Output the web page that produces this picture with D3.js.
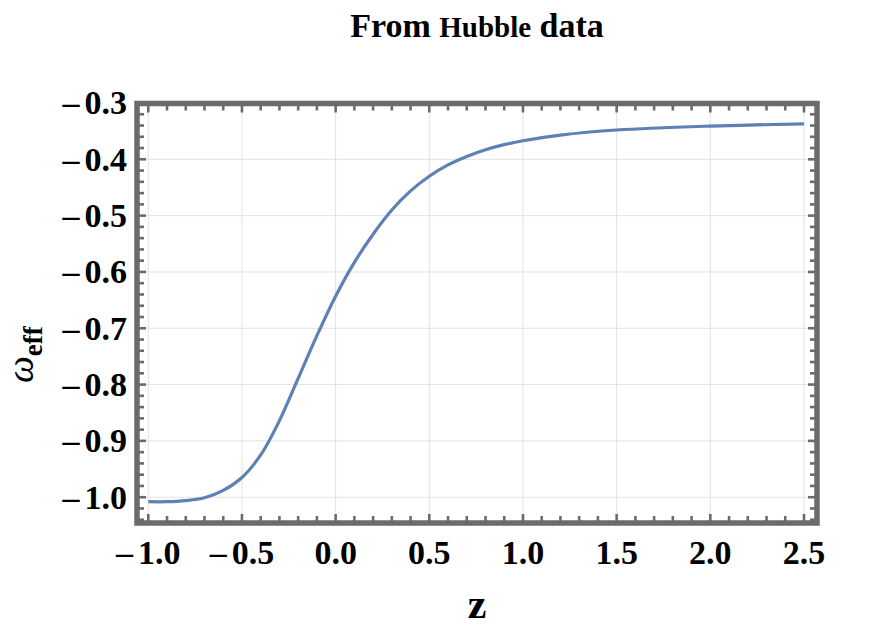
<!DOCTYPE html>
<html>
<head>
<meta charset="utf-8">
<script src="https://cdn.jsdelivr.net/npm/d3@7"></script>
<style>
  body { margin: 0; background: #fff; }
  text { font-family: "Liberation Serif", "Times New Roman", serif; font-weight: bold; }
</style>
</head>
<body>
<div id="chart"></div>
<script>
// values
var zValues = [-1.0, -0.9, -0.8, -0.7, -0.6, -0.5, -0.4, -0.3, -0.2, -0.1, 0.0, 0.1, 0.2, 0.3, 0.4, 0.5, 0.6, 0.7, 0.8, 0.9, 1.0, 1.2, 1.5, 2.0, 2.5];
var wEff    = [-1.008, -1.008, -1.006, -1.001, -0.988, -0.965, -0.925, -0.864, -0.789, -0.713, -0.643, -0.583, -0.533, -0.490, -0.456, -0.430, -0.410, -0.395, -0.383, -0.374, -0.367, -0.357, -0.348, -0.341, -0.337];
var xTicks = [-1.0, -0.5, 0.0, 0.5, 1.0, 1.5, 2.0, 2.5];
var yTicks = [-1.0, -0.9, -0.8, -0.7, -0.6, -0.5, -0.4, -0.3];

var width = 872, height = 627;
var pLeft = 137, pRight = 817, pTop = 103.5, pBottom = 523;

var svg = d3.select("#chart").append("svg")
    .attr("width", width)
    .attr("height", height);

var x = d3.scaleLinear().domain([-1.0603, 2.5695]).range([pLeft, pRight]);
var y = d3.scaleLinear().domain([-1.0458, -0.3009]).range([pBottom, pTop]);

var frameColor = "#6b6b6b";

// grid lines
var grid = svg.append("g").attr("stroke", "#e2e2e2").attr("stroke-width", 1);
grid.selectAll(".vg").data(xTicks).enter().append("line")
    .attr("x1", function(d) { return x(d); }).attr("x2", function(d) { return x(d); })
    .attr("y1", pTop).attr("y2", pBottom);
grid.selectAll(".hg").data(yTicks).enter().append("line")
    .attr("y1", function(d) { return y(d); }).attr("y2", function(d) { return y(d); })
    .attr("x1", pLeft).attr("x2", pRight);

// curve
var line = d3.line()
    .curve(d3.curveCatmullRom.alpha(0.5))
    .x(function(d, i) { return x(zValues[i]); })
    .y(function(d) { return y(d); });

svg.append("path")
    .datum(wEff)
    .attr("fill", "none")
    .attr("stroke", "#5e81b5")
    .attr("stroke-width", 3.2)
    .attr("d", line);

// ticks (inside, on all four sides)
var xMinor = d3.range(-10, 26).map(function(i) { return i / 10; });
var yMinor = d3.range(-52, -14).map(function(i) { return i / 50; });
var ticks = svg.append("g").attr("stroke", frameColor).attr("stroke-width", 2.6);

function isMajor(v, step) { return Math.abs(v / step - Math.round(v / step)) < 1e-6; }

xMinor.forEach(function(v) {
  var len = isMajor(v, 0.5) ? 9 : 7;
  ticks.append("line").attr("x1", x(v)).attr("x2", x(v)).attr("y1", pBottom).attr("y2", pBottom - len);
  ticks.append("line").attr("x1", x(v)).attr("x2", x(v)).attr("y1", pTop).attr("y2", pTop + len);
});
yMinor.forEach(function(v) {
  if (y(v) > pBottom - 2 || y(v) < pTop + 2) return;
  var len = isMajor(v, 0.1) ? 9 : 7;
  ticks.append("line").attr("y1", y(v)).attr("y2", y(v)).attr("x1", pLeft).attr("x2", pLeft + len);
  ticks.append("line").attr("y1", y(v)).attr("y2", y(v)).attr("x1", pRight).attr("x2", pRight - len);
});

// frame
svg.append("rect")
    .attr("x", pLeft).attr("y", pTop)
    .attr("width", pRight - pLeft).attr("height", pBottom - pTop)
    .attr("fill", "none")
    .attr("stroke", frameColor)
    .attr("stroke-width", 5.5);

function addLabel(sel, v) {
  var s = d3.format(".1f")(Math.abs(v));
  if (v < 0) {
    sel.append("tspan").text("\u2013");
    sel.append("tspan").attr("dx", 5).text(s);
  } else {
    sel.text(s);
  }
}

// x tick labels
svg.append("g").selectAll("text").data(xTicks).enter().append("text")
    .attr("x", function(d) { return x(d); })
    .attr("y", 564)
    .attr("text-anchor", "middle")
    .attr("font-size", 34)
    .each(function(d) { addLabel(d3.select(this), d); });

// y tick labels
svg.append("g").selectAll("text").data(yTicks).enter().append("text")
    .attr("x", 127)
    .attr("y", function(d) { return y(d) + 11.5; })
    .attr("text-anchor", "end")
    .attr("font-size", 34)
    .each(function(d) { addLabel(d3.select(this), d); });

// title
var title = svg.append("text")
    .attr("x", 477).attr("y", 37)
    .attr("text-anchor", "middle")
    .attr("font-size", 34);
title.append("tspan").text("From ");
title.append("tspan").attr("font-size", 29).text("Hubble");
title.append("tspan").text(" data");

// axis labels
svg.append("text")
    .attr("x", 477).attr("y", 618)
    .attr("text-anchor", "middle")
    .attr("font-size", 42)
    .text("z");

var yl = svg.append("text")
    .attr("transform", "translate(33,383) rotate(-90)")
    .attr("text-anchor", "start");
yl.append("tspan").attr("font-size", 38).attr("font-style", "italic").attr("font-weight", "normal").text("\u03c9");
yl.append("tspan").attr("font-size", 27).attr("dy", 9).text("eff");
</script>
</body>
</html>
